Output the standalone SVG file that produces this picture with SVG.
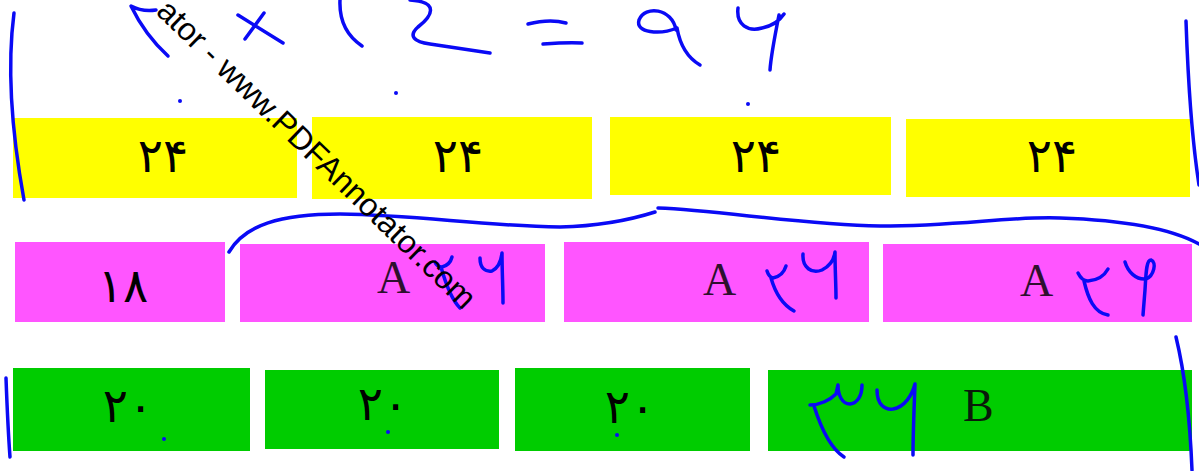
<svg xmlns="http://www.w3.org/2000/svg" width="1199" height="471" viewBox="0 0 1199 471">
<style>
.y{fill:#ffff00}
.m{fill:#ff55ff}
.g{fill:#00cc00}
.num{font-family:"DejaVu Sans",sans-serif;font-size:47px;fill:#000;text-anchor:middle}
.let{font-family:"Liberation Serif",serif;font-size:46px;fill:#2e102e}
.letb{font-family:"Liberation Serif",serif;font-size:46px;fill:#0a1a0a}
.ink{fill:none;stroke:#0a0af5;stroke-width:3.5;stroke-linecap:round;stroke-linejoin:round}
.dot{fill:#0a0af5}
.wm{font-family:"Liberation Sans",Arial,sans-serif;font-size:32px;fill:#000}
</style>
<rect width="1199" height="471" fill="#ffffff"/>
<g id="y1"><rect class="y" x="13" y="118" width="284" height="80"/><text class="num" x="163" y="172">۲۴</text></g>
<g id="y2"><rect class="y" x="312" y="117" width="280" height="82"/><text class="num" x="458" y="172">۲۴</text></g>
<g id="y3"><rect class="y" x="610" y="117" width="281" height="78"/><text class="num" x="756" y="172">۲۴</text></g>
<g id="y4"><rect class="y" x="906" y="119" width="284" height="78"/><text class="num" x="1052" y="172">۲۴</text></g>
<g id="m1"><rect class="m" x="15" y="242" width="210" height="80"/><text class="num" x="123" y="302">۱۸</text></g>
<g id="m2"><rect class="m" x="240" y="244" width="305" height="78"/><text class="let" x="377" y="293">A</text></g>
<g id="m3"><rect class="m" x="564" y="242" width="305" height="80"/><text class="let" x="703" y="295">A</text></g>
<g id="m4"><rect class="m" x="883" y="244" width="309" height="78"/><text class="let" x="1020" y="296">A</text></g>
<g id="g1"><rect class="g" x="13" y="368" width="237" height="83"/><text class="num" x="128" y="422">۲۰</text></g>
<g id="g2"><rect class="g" x="265" y="370" width="234" height="79"/><text class="num" x="383" y="420">۲۰</text></g>
<g id="g3"><rect class="g" x="515" y="368" width="235" height="83"/><text class="num" x="630" y="423">۲۰</text></g>
<g id="g4"><rect class="g" x="768" y="370" width="424" height="81"/><text class="letb" x="963" y="421">B</text></g>
<g id="connectors">
<g id="ink">
<path class="ink" d="M14,13 Q4,90 24,200"/>
<path class="ink" d="M168,56 Q145,35 131,6 Q142,12 156,10"/>
<path class="ink" d="M238,15 L283,43 M264,13 L245,39"/>
<path class="ink" d="M340,0 C339,22 347,36 362,46"/>
<path class="ink" d="M410,0 C440,2 432,16 418,27 C408,36 414,42 430,44 C450,47 470,50 490,53"/>
<path class="ink" d="M528,24 C540,21 555,20 566,23 M543,44 C556,43 570,42 582,43"/>
<path class="ink" d="M676,30 C672,8 645,5 639,20 C635,33 660,35 677,28 C680,45 688,58 700,65"/>
<path class="ink" d="M738,8 C736,25 748,32 762,28 C772,26 780,20 784,14 M779,15 C775,35 771,55 770,70"/>
<path class="ink" d="M1186,21 C1188,80 1192,140 1199,185"/>
<path class="ink" d="M229,252 C245,225 280,214 340,214 C420,215 480,226 560,227 C600,226 630,220 655,212"/>
<path class="ink" d="M658,208 C720,210 800,225 880,226 C960,226 1010,216 1060,218 C1120,220 1170,228 1199,244"/>
<path class="ink" d="M435,262 Q437,267 442,267 Q450,265 452,257 M441,267 C446,285 452,300 460,308"/>
<path class="ink" d="M480,258 C480,268 485,272 492,271 C498,268 501,262 502,253 C502,270 503,288 503,303"/>
<path class="ink" d="M767,271 Q769,277 773,278 Q783,276 786,266 M771,278 C775,292 783,305 794,311"/>
<path class="ink" d="M803,254 C802,268 812,274 822,270 C830,266 834,260 835,252 C835,270 836,285 836,298"/>
<path class="ink" d="M1078,273 Q1082,281 1088,281 Q1102,280 1108,269 M1084,281 C1088,298 1094,313 1108,315"/>
<path class="ink" d="M1125,262 C1128,272 1136,280 1146,279 C1154,276 1157,262 1151,260 C1146,260 1146,275 1145,290 L1143,315"/>
<path class="ink" d="M810,405 C820,405 830,400 836,394 L838,385 C838,395 842,404 850,404 C858,403 862,395 862,385 M814,406 C820,425 830,448 844,457"/>
<path class="ink" d="M877,390 C877,405 885,410 893,409 C905,407 912,395 915,384 C914,410 913,435 913,455"/>
<path class="ink" d="M1176,337 C1184,370 1190,420 1192,470"/>
<path class="ink" d="M6,378 C7,405 8,430 10,457"/>
<circle class="dot" cx="180" cy="101" r="2"/>
<circle class="dot" cx="396" cy="93" r="2"/>
<circle class="dot" cx="748" cy="104" r="2"/>
<circle class="dot" cx="164" cy="439" r="2"/>
<circle class="dot" cx="388" cy="432" r="2"/>
<circle class="dot" cx="617" cy="435" r="2"/>
</g>
</g>
<text class="wm" x="155" y="13" transform="rotate(44 155 13)">ator - www.PDFAnnotator.com</text>
</svg>
